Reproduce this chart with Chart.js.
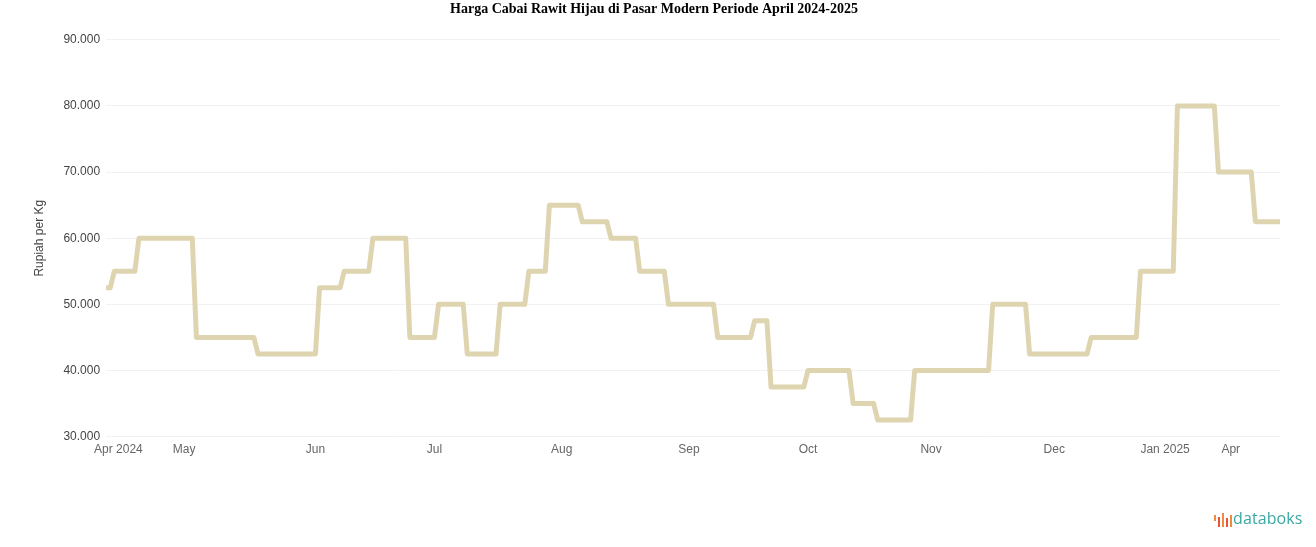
<!DOCTYPE html>
<html>
<head>
<meta charset="utf-8">
<script src="https://cdn.jsdelivr.net/npm/chart.js@4.4.1/dist/chart.umd.min.js"></script>
<style>
    html, body { margin: 0; padding: 0; background: #fff; }
    #wrap { position: relative; width: 1316px; height: 547px; }
    #logo { position: absolute; left: 1214px; top: 507px; height: 22px; font-family: "Open Sans", "DejaVu Sans", sans-serif; }
    #logo .bars { position: absolute; left: 0; top: 4px; width: 18px; height: 16px; }
    #logo .bars span { position: absolute; bottom: 0; width: 2px; }
    #logo .txt { position: absolute; left: 19px; top: 0; font-size: 16px; color: #3aa7a3; letter-spacing: 0.1px; }
</style>
</head>
<body>
<div id="wrap">
    <canvas id="chart" width="1316" height="547"></canvas>
    <div id="logo">
        <div class="bars">
            <span style="left:0;height:6px;top:4px;background:#f08a3c"></span>
            <span style="left:4px;height:10px;background:#e8553a"></span>
            <span style="left:8px;height:14px;background:#f08a3c"></span>
            <span style="left:12px;height:9px;background:#e8553a"></span>
            <span style="left:16px;height:12px;background:#f08a3c"></span>
        </div>
        <div class="txt">databoks</div>
    </div>
</div>
<script>
// hari ke-n sejak awal data, harga berlaku mulai hari itu
const levelStart = [0, 2, 8, 22, 37, 52, 58, 65, 74, 81, 88, 96, 103, 108, 116, 123, 130, 137,
    149, 158, 162, 171, 182, 188, 197, 216, 225, 240, 252, 261, 271, 280];
const levelPrice = [52500, 55000, 60000, 45000, 42500, 52500, 55000, 60000, 45000, 50000, 42500,
    50000, 55000, 65000, 62500, 60000, 55000, 50000, 45000, 47500, 37500, 40000, 35000, 32500,
    40000, 50000, 42500, 45000, 55000, 80000, 70000, 62500];
const lastDay = 286;

const tickDays = [3, 19, 51, 80, 111, 142, 171, 201, 231, 258, 274];
const tickLabels = ['Apr 2024', 'May', 'Jun', 'Jul', 'Aug', 'Sep', 'Oct', 'Nov', 'Dec', 'Jan 2025', 'Apr'];

// susun titik-titik garis dari tiap level harga
const points = [];
for (let i = 0; i < levelStart.length; i++) {
    const end = i < levelStart.length - 1 ? levelStart[i + 1] - 1 : lastDay;
    points.push({ x: levelStart[i], y: levelPrice[i] });
    if (end > levelStart[i]) points.push({ x: end, y: levelPrice[i] });
}

function formatRupiah(v) {
    return v.toString().replace(/\B(?=(\d{3})+(?!\d))/g, '.');
}

const ctx = document.getElementById('chart').getContext('2d');
new Chart(ctx, {
    type: 'line',
    data: {
        datasets: [{
            label: 'Cabai Rawit Hijau',
            data: points,
            borderColor: 'rgb(222, 213, 176)',
            borderWidth: 5,
            borderJoinStyle: 'round',
            borderCapStyle: 'round',
            pointRadius: 0,
            tension: 0,
            fill: false
        }]
    },
    options: {
        responsive: false,
        animation: false,
        layout: {
            padding: { left: 28, right: 36, top: 0, bottom: 84 }
        },
        scales: {
            x: {
                type: 'linear',
                min: 0,
                max: lastDay,
                afterBuildTicks: function (scale) {
                    scale.ticks = tickDays.map(v => ({ value: v }));
                },
                ticks: {
                    autoSkip: false,
                    maxRotation: 0,
                    padding: 6,
                    color: '#666',
                    font: { family: 'Liberation Sans, Arial, sans-serif', size: 12 },
                    callback: function (value) {
                        const idx = tickDays.indexOf(value);
                        return idx >= 0 ? tickLabels[idx] : '';
                    }
                },
                grid: { display: false, drawTicks: false },
                border: { display: false }
            },
            y: {
                min: 30000,
                max: 90000,
                ticks: {
                    stepSize: 10000,
                    color: '#444',
                    padding: 6,
                    font: { family: 'Liberation Sans, Arial, sans-serif', size: 12 },
                    callback: v => formatRupiah(v)
                },
                title: {
                    display: true,
                    text: 'Rupiah per Kg',
                    color: '#444',
                    padding: { top: 4, bottom: 11 },
                    font: { family: 'Liberation Sans, Arial, sans-serif', size: 12 }
                },
                grid: { color: '#f1f1f1', drawTicks: false },
                border: { display: false }
            }
        },
        plugins: {
            legend: { display: false },
            tooltip: { enabled: false },
            title: {
                display: true,
                text: 'Harga Cabai Rawit Hijau di Pasar Modern Periode April 2024-2025',
                color: '#000',
                font: { family: 'Liberation Serif, Times New Roman, serif', size: 14, weight: 'bold' },
                padding: { top: 1, bottom: 22 }
            }
        }
    }
});
</script>
</body>
</html>
